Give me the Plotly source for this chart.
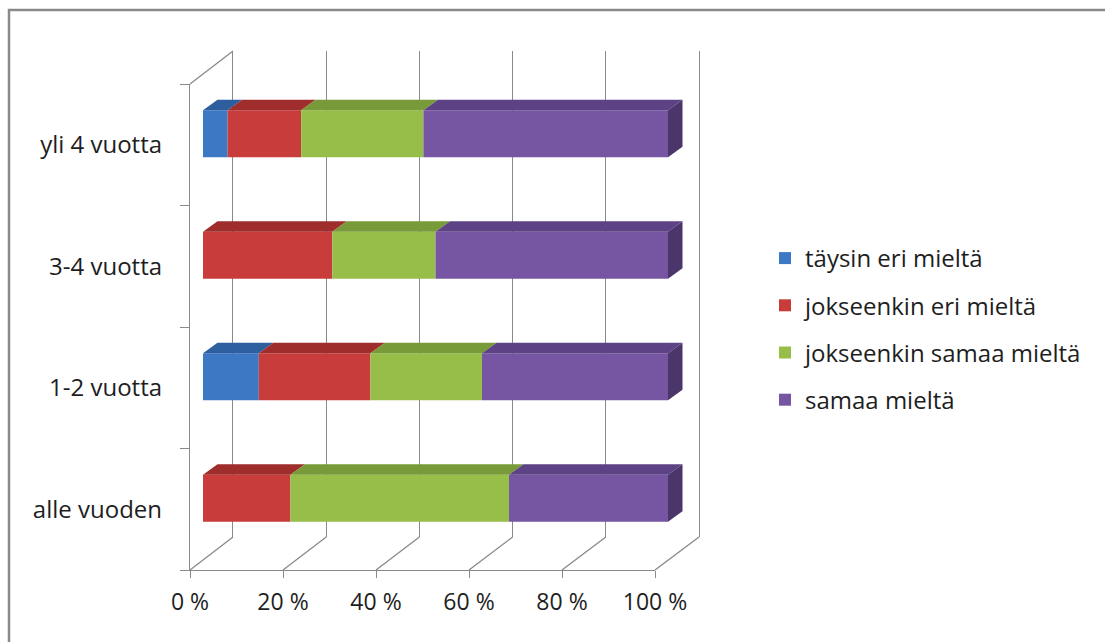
import plotly.graph_objects as go

# ---------------- data ----------------
categories = ["alle vuoden", "1-2 vuotta", "3-4 vuotta", "yli 4 vuotta"]  # bottom -> top
series_names = ["täysin eri mieltä", "jokseenkin eri mieltä",
                "jokseenkin samaa mieltä", "samaa mieltä"]
taysin_eri = [0.0, 12.0, 0.0, 5.3]
jokseenkin_eri = [18.8, 24.0, 27.8, 15.8]
jokseenkin_samaa = [47.0, 24.0, 22.2, 26.3]
samaa = [34.2, 40.0, 50.0, 52.6]
x_ticks = [0, 20, 40, 60, 80, 100]

# ---------------- styles ----------------
front_cols = ["#3C78C3", "#C83D3B", "#97BE48", "#7655A2"]
top_cols = ["#2D5E9E", "#9E2D2B", "#789A38", "#5D4385"]
side_col = "#4B366C"
grid_col = "#898989"
txt_col = "#1e1e1e"
FONT = "Open Sans"

W, H = 1105, 642
def fx(p):
    return p / W
def fy(p):
    return 1 - p / H

# geometry (pixels)
FX0, FX1, FY_BOT, FY_TOP = 190, 655, 570, 84        # front plane
BX0, BX1, BY_BOT, BY_TOP = 233, 699, 537, 51        # back wall
BAR_X0, BAR_PX_PER = 203, 4.65                      # bar front faces
BAR_Y_BOT, BAR_Y_TOP = 559, 73
CAT_PX = (BAR_Y_BOT - BAR_Y_TOP) / len(categories)
BAR_W = 47 / CAT_PX
DX = 14.5 / BAR_PX_PER
DY = 10.5 / CAT_PX
X3_MAX = 106

series = [taysin_eri, jokseenkin_eri, jokseenkin_samaa, samaa]
idx = list(range(len(categories)))

fig = go.Figure()

# back wall subplot (x/y)
fig.add_trace(go.Scatter(x=[None], y=[None], xaxis="x", yaxis="y",
                         showlegend=False, hoverinfo="skip"))
# front axis subplot (x2/y2)
fig.add_trace(go.Scatter(x=[None], y=[None], xaxis="x2", yaxis="y2",
                         showlegend=False, hoverinfo="skip"))

# bars (x3/y3)
cum = [0.0] * len(categories)
bases = []
for s in series:
    bases.append(cum[:])
    cum = [c + v for c, v in zip(cum, s)]

for k, (name, s) in enumerate(zip(series_names, series)):
    fig.add_trace(go.Bar(
        x=s, y=idx, base=bases[k], orientation="h", name=name,
        width=BAR_W, marker=dict(color=front_cols[k], line=dict(width=0)),
        xaxis="x3", yaxis="y3", legendgroup=name, hoverinfo="skip"))

# top faces
for k, s in enumerate(series):
    px_, py_ = [], []
    for i in idx:
        if s[i] <= 0:
            continue
        a = bases[k][i]
        b = a + s[i]
        t = i + BAR_W / 2
        px_ += [a, b, b + DX, a + DX, a, None]
        py_ += [t, t, t + DY, t + DY, t, None]
    fig.add_trace(go.Scatter(x=px_, y=py_, mode="lines", fill="toself",
                             fillcolor=top_cols[k], line=dict(width=0),
                             xaxis="x3", yaxis="y3", showlegend=False,
                             hoverinfo="skip"))

# right side face at end of stack
sx, sy = [], []
for i in idx:
    e = cum[i]
    t = i + BAR_W / 2
    bt = i - BAR_W / 2
    sx += [e, e + DX, e + DX, e, e, None]
    sy += [t, t + DY, bt + DY, bt, t, None]
fig.add_trace(go.Scatter(x=sx, y=sy, mode="lines", fill="toself",
                         fillcolor=side_col, line=dict(width=0),
                         xaxis="x3", yaxis="y3", showlegend=False,
                         hoverinfo="skip"))

# floor / wall diagonal lines
shapes = []
for v in x_ticks:
    f = FX0 + (FX1 - FX0) * v / 100
    b = BX0 + (BX1 - BX0) * v / 100
    shapes.append(dict(type="line", xref="paper", yref="paper",
                       x0=fx(f), y0=fy(FY_BOT), x1=fx(b), y1=fy(BY_BOT),
                       line=dict(color=grid_col, width=1.3)))
shapes.append(dict(type="line", xref="paper", yref="paper",
                   x0=fx(FX0), y0=fy(FY_TOP), x1=fx(BX0), y1=fy(BY_TOP),
                   line=dict(color=grid_col, width=1.3)))
# outer chart border
shapes.append(dict(type="rect", xref="paper", yref="paper",
                   x0=fx(9), y0=fy(10), x1=fx(W + 20), y1=fy(H + 20),
                   line=dict(color="#8a8a8a", width=2.5), layer="below"))

fig.update_layout(
    width=W, height=H,
    margin=dict(l=0, r=0, t=0, b=0, autoexpand=False),
    paper_bgcolor="white",
    plot_bgcolor="rgba(0,0,0,0)",
    barmode="overlay",
    showlegend=True,
    font=dict(family=FONT, size=24, color=txt_col),
    shapes=shapes,
    legend=dict(x=fx(765), y=fy(236), xanchor="left", yanchor="top",
                traceorder="grouped", tracegroupgap=13,
                font=dict(family=FONT, size=24, color=txt_col),
                bgcolor="rgba(0,0,0,0)", itemclick=False),
    # back wall
    xaxis=dict(domain=[fx(BX0), fx(BX1)], range=[0, 100], anchor="y",
               tickvals=x_ticks, showticklabels=False, ticks="",
               showgrid=True, gridcolor=grid_col, gridwidth=1.3,
               zeroline=False, showline=False, fixedrange=True,
               automargin=False),
    yaxis=dict(domain=[fy(BY_BOT), fy(BY_TOP)], range=[0, 1], anchor="x",
               showticklabels=False, ticks="", showgrid=False, zeroline=False,
               showline=True, mirror=True, linecolor=grid_col, linewidth=1.3,
               fixedrange=True, automargin=False),
    # front axes
    xaxis2=dict(domain=[fx(FX0), fx(FX1)], range=[0, 100], anchor="y2",
                tickvals=x_ticks, ticktext=[f"{v} %" for v in x_ticks],
                ticks="outside", ticklen=7, tickcolor=grid_col, tickwidth=1.3,
                showgrid=False, zeroline=False, showline=True,
                linecolor=grid_col, linewidth=1.3, ticklabelstandoff=4,
                tickfont=dict(family=FONT, size=23, color=txt_col),
                fixedrange=True, automargin=False),
    yaxis2=dict(domain=[fy(FY_BOT), fy(FY_TOP)], type="category",
                categoryorder="array", categoryarray=categories,
                tickvals=categories, range=[-0.5, len(categories) - 0.5],
                anchor="x2", tickson="boundaries", ticks="outside", ticklen=9,
                tickcolor=grid_col, tickwidth=1.3, showgrid=False,
                zeroline=False, showline=True, linecolor=grid_col,
                linewidth=1.3, ticklabelstandoff=22,
                tickfont=dict(family=FONT, size=24, color=txt_col),
                fixedrange=True, automargin=False),
    # bars
    xaxis3=dict(domain=[fx(BAR_X0), fx(BAR_X0 + BAR_PX_PER * X3_MAX)],
                range=[0, X3_MAX], anchor="y3", visible=False, fixedrange=True,
                automargin=False),
    yaxis3=dict(domain=[fy(BAR_Y_BOT), fy(BAR_Y_TOP)],
                range=[-0.5, len(categories) - 0.5], anchor="x3",
                visible=False, fixedrange=True, automargin=False),
)

fig.write_html("out.html")
